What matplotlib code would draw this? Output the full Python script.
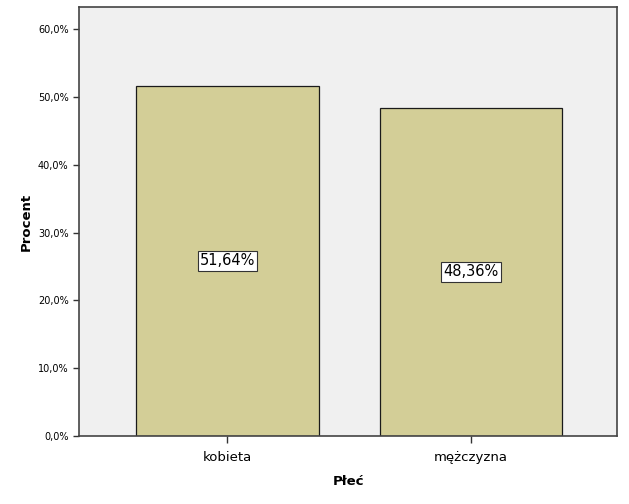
import matplotlib
matplotlib.use("Agg")
import matplotlib.pyplot as plt
from matplotlib.ticker import FuncFormatter

categories = ["kobieta", "mężczyzna"]
values = [51.64, 48.36]
yticks = [0, 10, 20, 30, 40, 50, 60]

fig = plt.figure(figsize=(6.29, 5.04), dpi=100)
ax = fig.add_axes([79/629, 1-436/504, 538/629, 429/504])
ax.set_facecolor("#F0F0F0")
x = list(range(len(categories)))
ax.bar(x, values, width=0.75, color="#D3CE97", edgecolor="#1a1a1a", linewidth=0.9, zorder=2)
for xi, v in zip(x, values):
    ax.text(xi, v/2, f"{v:.2f}%".replace(".", ","), ha="center", va="center", fontsize=10.5,
            bbox=dict(boxstyle="square,pad=0.15", fc="white", ec="#333333", lw=0.8), zorder=3)
ax.set_xlim(-0.61, 1.6)
ax.set_ylim(0, 63.25)
ax.set_yticks(yticks)
ax.yaxis.set_major_formatter(FuncFormatter(lambda v, p: f"{v:.1f}%".replace(".", ",")))
ax.set_xticks(x)
ax.set_xticklabels(categories, fontsize=9.5)
ax.tick_params(axis="y", labelsize=7, length=4, width=1, color="#333333")
ax.tick_params(axis="x", length=5, width=1, color="#333333", pad=6)
for s in ax.spines.values():
    s.set_color("#444444")
    s.set_linewidth(1.2)
ax.set_ylabel("Procent", fontsize=9.5, fontweight="bold", labelpad=4)
ax.set_xlabel("Płeć", fontsize=9.5, fontweight="bold", labelpad=8)
fig.savefig("out.png", dpi=100)
